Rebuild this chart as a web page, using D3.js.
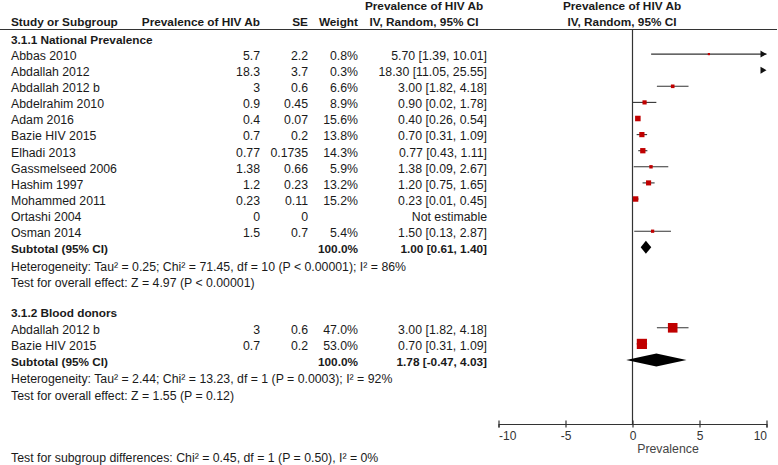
<!DOCTYPE html>
<html><head><meta charset="utf-8">
<script src="https://cdn.jsdelivr.net/npm/d3@7"></script>
<style>
html,body{margin:0;padding:0;background:#fff;}
svg text{font-family:"Liberation Sans",Arial,sans-serif;font-size:12.3px;fill:#1a1a1a;}
.b{font-weight:bold;font-size:11.8px;}
</style></head>
<body>
<svg id="c" width="778" height="465"></svg>
<script>
// ---- data ----
const group1Title = "3.1.1 National Prevalence";
const group1Studies = ["Abbas 2010","Abdallah 2012","Abdallah 2012 b","Abdelrahim 2010","Adam 2016","Bazie HIV 2015","Elhadi 2013","Gassmelseed 2006","Hashim 1997","Mohammed 2011","Ortashi 2004","Osman 2014"];
const group1Est = [5.7, 18.3, 3, 0.9, 0.4, 0.7, 0.77, 1.38, 1.2, 0.23, 0, 1.5];
const group1SE = [2.2, 3.7, 0.6, 0.45, 0.07, 0.2, 0.1735, 0.66, 0.23, 0.11, 0, 0.7];
const group1Weight = [0.8, 0.3, 6.6, 8.9, 15.6, 13.8, 14.3, 5.9, 13.2, 15.2, null, 5.4];
const group1Lo = [1.39, 11.05, 1.82, 0.02, 0.26, 0.31, 0.43, 0.09, 0.75, 0.01, null, 0.13];
const group1Hi = [10.01, 25.55, 4.18, 1.78, 0.54, 1.09, 1.11, 2.67, 1.65, 0.45, null, 2.87];
const group1Total = [1.00, 0.61, 1.40];
const group1Het = "Heterogeneity: Tau² = 0.25; Chi² = 71.45, df = 10 (P < 0.00001); I² = 86%";
const group1Test = "Test for overall effect: Z = 4.97 (P < 0.00001)";

const group2Title = "3.1.2 Blood donors";
const group2Studies = ["Abdallah 2012 b","Bazie HIV 2015"];
const group2Est = [3, 0.7];
const group2SE = [0.6, 0.2];
const group2Weight = [47.0, 53.0];
const group2Lo = [1.82, 0.31];
const group2Hi = [4.18, 1.09];
const group2Total = [1.78, -0.47, 4.03];
const group2Het = "Heterogeneity: Tau² = 2.44; Chi² = 13.23, df = 1 (P = 0.0003); I² = 92%";
const group2Test = "Test for overall effect: Z = 1.55 (P = 0.12)";

const subgroupTest = "Test for subgroup differences: Chi² = 0.45, df = 1 (P = 0.50), I² = 0%";
const axisTicks = [-10, -5, 0, 5, 10];
const axisLabel = "Prevalence";
const headerCols = ["Study or Subgroup","Prevalence of HIV Ab","SE","Weight"];

// ---- layout ----
const svg = d3.select("#c");
const x = d3.scaleLinear().domain([-10, 10]).range([498.5, 766.5]);
const rowY = i => 38 + i * 16.1;
const tOff = 1.5;   // text sits slightly below mark centre
const colName = 11, colEst = 260, colSE = 308, colW = 358, colCI = 487;
const axisY = 424;
const ink = "#333";
const red = "#c00000";

function txt(x0, y, s, anchor, cls) {
  const t = svg.append("text").attr("x", x0).attr("y", y).attr("dy", "0.35em").text(s);
  if (anchor) t.attr("text-anchor", anchor);
  if (cls) t.attr("class", cls);
  return t;
}

// header
txt(424, 6, "Prevalence of HIV Ab", "middle", "b");
txt(424, 22, "IV, Random, 95% CI", "middle", "b");
txt(622, 6, "Prevalence of HIV Ab", "middle", "b");
txt(622, 22, "IV, Random, 95% CI", "middle", "b");
txt(colName, 22, headerCols[0], null, "b");
txt(colEst, 22, headerCols[1], "end", "b");
txt(colSE, 22, headerCols[2], "end", "b");
txt(colW, 22, headerCols[3], "end", "b");
svg.append("line").attr("x1",0).attr("x2",777).attr("y1",29.5).attr("y2",29.5).attr("stroke",ink).attr("stroke-width",1.2);

// zero line
svg.append("line").attr("x1",x(0)).attr("x2",x(0)).attr("y1",29.5).attr("y2",axisY).attr("stroke",ink).attr("stroke-width",1.2);

const ciText = (e,l,h) => e.toFixed(2) + " [" + l.toFixed(2) + ", " + h.toFixed(2) + "]";
const [xmin, xmax] = x.domain();

function drawGroup(startRow, title, names, est, se, wt, lo, hi, total, het, test) {
  txt(colName, rowY(startRow) + tOff, title, null, "b");
  names.forEach((n, i) => {
    const y = rowY(startRow + 1 + i);
    const ty = y + tOff;
    txt(colName, ty, n);
    txt(colEst, ty, String(est[i]), "end");
    txt(colSE, ty, String(se[i]), "end");
    if (wt[i] == null) {
      txt(colCI, ty, "Not estimable", "end");
      return;
    }
    txt(colW, ty, wt[i].toFixed(1) + "%", "end");
    txt(colCI, ty, ciText(est[i], lo[i], hi[i]), "end");
    // CI line
    const l = Math.max(lo[i], xmin), h = Math.min(hi[i], xmax);
    if (l < h) {
      svg.append("line").attr("x1",x(l)).attr("x2",x(h)).attr("y1",y).attr("y2",y).attr("stroke",ink).attr("stroke-width",1.1);
    }
    if (hi[i] > xmax) {
      const ax = x(xmax);
      svg.append("path").attr("d",`M${ax-6},${y-3.5}L${ax},${y}L${ax-6},${y+3.5}Z`).attr("fill","#111");
    }
    if (est[i] >= xmin && est[i] <= xmax) {
      const s = Math.max(2.2, 1.4 * Math.sqrt(wt[i]));
      svg.append("rect").attr("x",x(est[i]) - s/2).attr("y",y - s/2).attr("width",s).attr("height",s).attr("fill",red);
    }
  });
  const sy = rowY(startRow + 1 + names.length);
  txt(colName, sy + tOff, "Subtotal (95% CI)", null, "b");
  txt(colW, sy + tOff, "100.0%", "end", "b");
  txt(colCI, sy + tOff, ciText(total[0], total[1], total[2]), "end", "b");
  const dh = 6.5;
  svg.append("path").attr("d",`M${x(total[1])},${sy}L${x(total[0])},${sy-dh}L${x(total[2])},${sy}L${x(total[0])},${sy+dh}Z`).attr("fill","#000");
  txt(colName, rowY(startRow + 2 + names.length) + 3, het);
  txt(colName, rowY(startRow + 3 + names.length) + 3, test);
}

drawGroup(0, group1Title, group1Studies, group1Est, group1SE, group1Weight, group1Lo, group1Hi, group1Total, group1Het, group1Test);
drawGroup(17, group2Title, group2Studies, group2Est, group2SE, group2Weight, group2Lo, group2Hi, group2Total, group2Het, group2Test);

// axis
const axis = d3.axisBottom(x).tickValues(axisTicks).tickSizeOuter(0).tickSize(3.5).tickPadding(4).tickFormat(d3.format("d"));
const ag = svg.append("g").attr("transform",`translate(0,${axisY})`).call(axis);
ag.attr("font-family",null).attr("font-size",null);
ag.select(".domain").attr("stroke",ink).attr("stroke-width",1.2);
ag.selectAll(".tick line").attr("y1",-3.5).attr("y2",3.5).attr("stroke",ink).attr("stroke-width",1.2);
ag.selectAll(".tick text").style("font-size","12px").style("fill","#333")
  .attr("text-anchor", d => d === axisTicks[0] ? "start" : d === axisTicks[axisTicks.length-1] ? "end" : "middle")
  .text(d => d < 0 ? "-" + Math.abs(d) : String(d));
svg.append("text").attr("x",(x(0)+x(5))/2 + 2).attr("y",449).attr("dy","0.35em").attr("text-anchor","middle").style("fill","#444").text(axisLabel);

txt(colName, 458, subgroupTest);
</script>
</body></html>
